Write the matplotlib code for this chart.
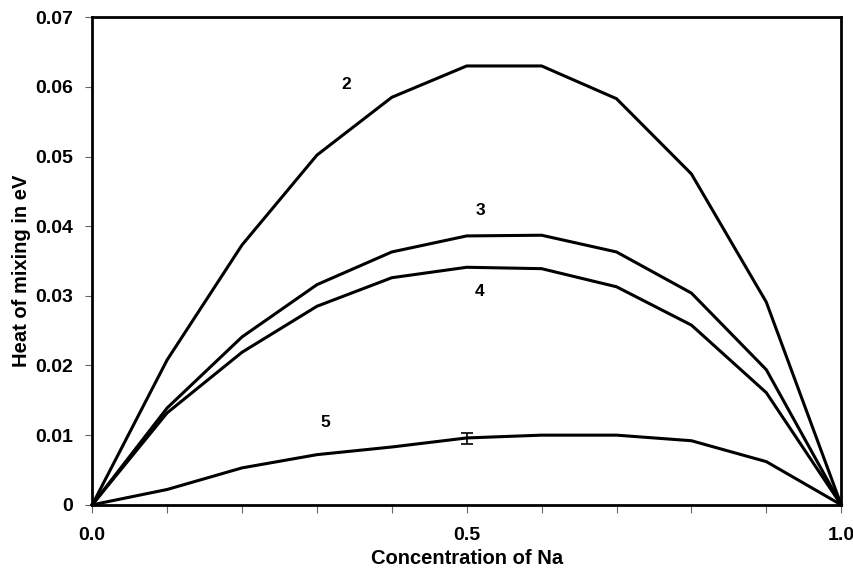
import matplotlib
matplotlib.use("Agg")
import matplotlib.pyplot as plt
from matplotlib.ticker import MultipleLocator, FixedLocator, FuncFormatter

plt.rcParams.update({
    "font.family": ["Liberation Sans", "DejaVu Sans"],
    "font.weight": "bold",
    "font.size": 14,
})

# ── Data ─────────────────────────────────────────────────────────────────────
conc = [0.0, 0.1, 0.2, 0.3, 0.4, 0.5, 0.6, 0.7, 0.8, 0.9, 1.0]
curve_2 = [0.0, 0.0208, 0.0373, 0.0502, 0.0585, 0.0630, 0.0630, 0.0583, 0.0475, 0.0291, 0.0]
curve_3 = [0.0, 0.0139, 0.0241, 0.0316, 0.0363, 0.0386, 0.0387, 0.0363, 0.0304, 0.0194, 0.0]
curve_4 = [0.0, 0.0132, 0.0219, 0.0285, 0.0326, 0.0341, 0.0339, 0.0313, 0.0258, 0.0161, 0.0]
curve_5 = [0.0, 0.0022, 0.0053, 0.0072, 0.0083, 0.0096, 0.0100, 0.0100, 0.0092, 0.0062, 0.0]

err_x = [0.5]
err_y = [0.00955]
err_size = [0.0008]

labels = ["2", "3", "4", "5"]
label_x = [0.339, 0.518, 0.517, 0.311]
label_y = [0.0603, 0.0423, 0.0306, 0.0118]

fig = plt.figure(figsize=(8.54, 5.73), dpi=100)
ax = fig.add_axes([0.108, 0.119, 0.877, 0.851])

for ys in (curve_2, curve_3, curve_4, curve_5):
    ax.plot(conc, ys, color="black", lw=2.2, solid_joinstyle="miter", clip_on=False)

ax.errorbar(err_x, err_y, yerr=err_size, fmt="none", ecolor="black",
            elinewidth=1.2, capsize=4, capthick=1.2)

for t, x, y in zip(labels, label_x, label_y):
    ax.text(x, y, t, ha="center", va="center", fontsize=12.5, fontweight="bold")

ax.set_xlim(0, 1.0)
ax.set_ylim(0, 0.07)

ax.xaxis.set_major_locator(FixedLocator([0.0, 0.5, 1.0]))
ax.xaxis.set_minor_locator(MultipleLocator(0.1))
ax.xaxis.set_major_formatter(FuncFormatter(lambda v, p: f"{v:.1f}"))
ax.yaxis.set_major_locator(MultipleLocator(0.01))
ax.yaxis.set_major_formatter(FuncFormatter(lambda v, p: "0" if abs(v) < 1e-9 else f"{v:.2f}"))

ax.tick_params(axis="x", which="both", direction="out", length=6, width=0.8,
               color="0.4", pad=10)
ax.tick_params(axis="y", which="major", direction="out", length=5, width=0.8,
               color="0.4", pad=9)

for s in ax.spines.values():
    s.set_linewidth(2.0)

ax.set_xlabel("Concentration of Na", fontsize=14.5, fontweight="bold")
ax.set_ylabel("Heat of mixing in eV", fontsize=14.5, fontweight="bold")
ax.xaxis.set_label_coords(0.5, -0.09)
ax.yaxis.set_label_coords(-0.082, 0.48)

fig.savefig("out.png", dpi=100)
